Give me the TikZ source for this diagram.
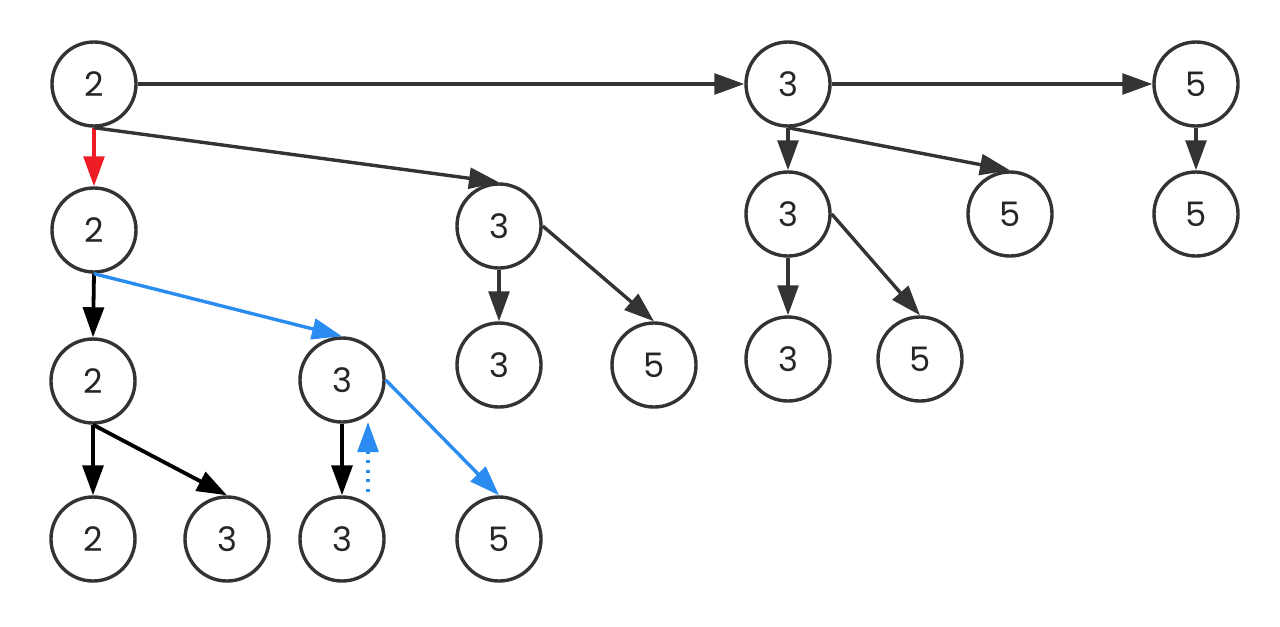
\documentclass[tikz,border=0pt]{standalone}
\usepackage{fontspec}
\setmainfont{Poppins}
\usetikzlibrary{arrows.meta}

\definecolor{edgegray}{HTML}{333333}
\definecolor{pathred}{HTML}{EE1C25}
\definecolor{pathblue}{HTML}{2A8CF0}

\begin{document}
\begin{tikzpicture}[x=0.025cm,y=-0.025cm,
    >={Triangle[length=0.75cm,width=0.52cm]},
    vert/.style={circle,draw=edgegray,line width=0.085cm,minimum size=2.1cm,inner sep=0pt,
      font=\fontsize{24}{28}\selectfont,text=black!85},
    every edge/.style={draw=edgegray,line width=0.085cm},
    hard/.style={draw=black,line width=0.095cm},
    red path/.style={draw=pathred},
    blue path/.style={draw=pathblue}]
    \useasboundingbox (0,0) rectangle (1280,626);

    \node[vert] (q11) at (94,84) {2};
    \node[vert] (q12) at (788,84) {3};
    \node[vert] (q13) at (1196,84) {5};

    \node[vert] (q21) at (94,230) {2};
    \node[vert] (q22) at (499,226) {3};
    \node[vert] (q23) at (788,214) {3};
    \node[vert] (q24) at (1010,214) {5};
    \node[vert] (q25) at (1196,214) {5};

    \node[vert] (q31) at (93,381) {2};
    \node[vert] (q32) at (342,380) {3};
    \node[vert] (q33) at (499,365) {3};
    \node[vert] (q34) at (654,365) {5};
    \node[vert] (q35) at (788,359) {3};
    \node[vert] (q36) at (920,359) {5};

    \node[vert] (q41) at (93,539) {2};
    \node[vert] (q42) at (227,539) {3};
    \node[vert] (q43) at (342,539) {3};
    \node[vert] (q44) at (499,539) {5};

    \coordinate (up1) at (368,492);
    \coordinate (up2) at (368,422);

    \path[->]
    (q11) edge (q12)
    (q12) edge (q13)
    (q11.south) edge [red path] (q21.north)
    (q11.south) edge (q22.north)

    (q12.south) edge (q23.north)
    (q12.south) edge (q24.north)
    (q13.south) edge (q25.north)

    (q21.south) edge [hard] (q31.north)
    (q21.south) edge [blue path] (q32.north)

    (q22.south) edge (q33.north)
    (q22.east) edge (q34.north)

    (q23.south) edge (q35.north)
    (q23.east) edge (q36.north)

    (q31.south) edge [hard] (q41.north)
    (q31.south) edge [hard] (q42.north)

    (q32.south) edge [hard] (q43.north)
    (q32.east) edge [blue path] (q44.north)
    ;

    \draw[->,draw=pathblue,line width=0.085cm,dash pattern=on 0.08cm off 0.16cm] (up1) -- (up2);
  \end{tikzpicture}
\end{document}
